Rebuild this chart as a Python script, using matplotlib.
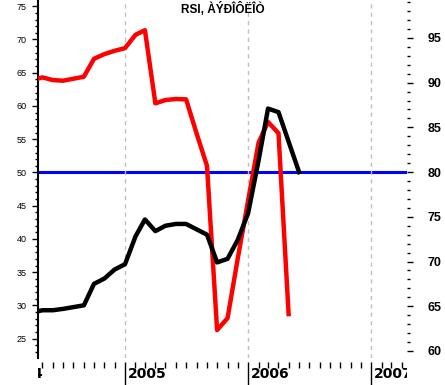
import matplotlib
matplotlib.use("Agg")
import matplotlib.pyplot as plt
import matplotlib.dates as mdates
import matplotlib.transforms as mtransforms
import numpy as np
import pandas as pd

plt.rcParams['font.family'] = ['Liberation Sans', 'DejaVu Sans']

# monthly values, April 2004 onwards
rsi = [63.9, 64.3, 63.9, 63.8, 64.1, 64.4, 67.1, 67.8, 68.3, 68.7,
       70.7, 71.4, 60.4, 60.9, 61.05, 61.0, 55.9, 51.0, 26.3, 28.1,
       37.0, 45.8, 54.5, 57.6, 55.9, 28.7]
price = [64.3, 64.55, 64.55, 64.7, 64.9, 65.1, 67.5, 68.1, 69.1, 69.7,
         72.8, 74.7, 73.4, 74.0, 74.2, 74.2, 73.6, 73.0, 69.9, 70.3,
         72.4, 75.4, 81.3, 87.1, 86.7, 83.4, 80.0]
rsi_dates = pd.date_range("2004-04-01", periods=len(rsi), freq="MS")
price_dates = pd.date_range("2004-04-01", periods=len(price), freq="MS")
years = [2004, 2005, 2006, 2007]
title = "RSI, ÀÝÐÎÔËÎÒ"
level = 50

fig = plt.figure(figsize=(4.45, 3.85), dpi=100)
ax = fig.add_axes([38 / 445, 27 / 385, 369 / 445, 358 / 385])
ax2 = ax.twinx()

ax.axhline(level, color='#0000ff', lw=2.2, zorder=1)
ax.plot(rsi_dates, rsi, color='#ff0000', lw=3.2, zorder=3)
ax2.plot(price_dates, price, color='black', lw=3.2, zorder=3)

ax.set_xlim(pd.Timestamp("2004-04-18"), pd.Timestamp("2007-04-17"))
ax.set_ylim(22.1, 75.94)
ax2.set_ylim(59.21, 99.24)

# x axis: years with long ticks, months with short ticks
ax.xaxis.set_major_locator(mdates.YearLocator())
ax.xaxis.set_minor_locator(mdates.MonthLocator(bymonth=range(2, 13)))
ax.xaxis.set_major_formatter(plt.NullFormatter())
ax.tick_params(axis='x', which='major', direction='out', length=18, width=1)
ax.tick_params(axis='x', which='minor', direction='out', length=4.5, width=1)
ax.grid(axis='x', which='major', color='#c0c0c0', linestyle=(0, (3, 3)), lw=1)

for s in ['top', 'right']:
    ax.spines[s].set_visible(False)
ax.spines['bottom'].set_visible(False)
ax.spines['bottom'].set_position(('outward', 3))
ax.spines['left'].set_linewidth(1.5)
for s in ax2.spines.values():
    s.set_visible(False)

ax.set_yticks(np.arange(25, 76, 5))
ax.set_yticks(np.arange(23, 76, 1), minor=True)
ax.tick_params(axis='y', which='major', length=4, width=1, pad=4, labelsize=6.5)
ax.tick_params(axis='y', which='minor', length=2, width=1)

ax2.set_yticks(np.arange(60, 96, 5))
ax2.set_yticks(np.arange(60, 100, 1), minor=True)
ax2.tick_params(axis='y', which='major', length=4.5, width=1, pad=10.5, labelsize=9)
ax2.tick_params(axis='y', which='minor', length=2, width=1)
for lab in ax2.get_yticklabels():
    lab.set_fontweight('bold')

# year labels, clipped to the plot width
clip = mtransforms.TransformedBbox(mtransforms.Bbox([[0, -1], [1, 2]]), ax.transAxes)
trans = mtransforms.blended_transform_factory(ax.transData, ax.transAxes) + \
    mtransforms.ScaledTranslation(3 / 100, -9 / 100, fig.dpi_scale_trans)
for yr in years:
    t = ax.text(mdates.date2num(pd.Timestamp(f"{yr}-01-01")), 0, str(yr),
                transform=trans, ha='left', va='top', fontsize=10,
                fontweight='bold', family='DejaVu Sans')
    t.set_clip_path(None)
    t.set_clip_box(clip)
    t.set_clip_on(True)

ax.text(0.5, 0.975, title, transform=ax.transAxes, ha='center', va='center',
        fontsize=8.5, fontweight='bold')

plt.savefig("out.png", dpi=100)
plt.close()
